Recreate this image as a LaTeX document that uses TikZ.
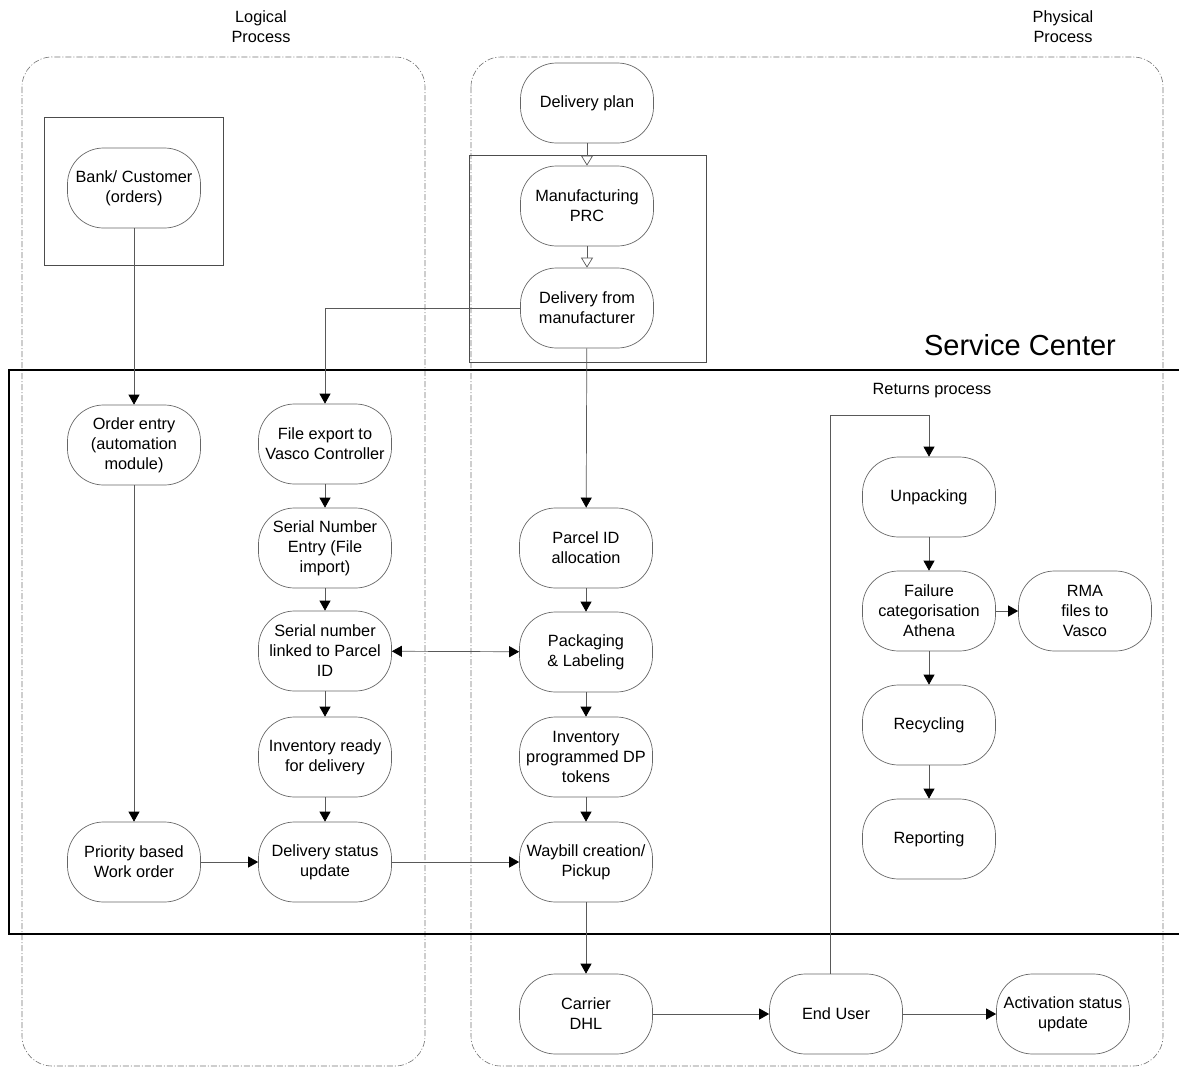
\documentclass[tikz,border=0pt]{standalone}
\usepackage{fontspec}
\setmainfont{Liberation Sans}
\usetikzlibrary{arrows.meta}
\newcommand{\nfont}{\fontsize{16.3}{20}\selectfont}
\tikzset{
  proc/.style={draw=black!60, line width=0.7pt, rounded corners=36pt, minimum width=133pt, minimum height=80pt, inner sep=1pt, align=center, font=\nfont},
  arr/.style={draw=black!65, line width=0.7pt, -{Triangle[length=10pt,width=11pt,color=black]}},
  darr/.style={draw=black!65, line width=0.7pt, {Triangle[length=10pt,width=11pt,color=black]}-{Triangle[length=10pt,width=11pt,color=black]}},
  oarr/.style={draw=black!65, line width=0.7pt, -{Triangle[open,length=10pt,width=12pt,fill=white]}},
  lane/.style={draw=black!55, line width=0.6pt, dash pattern=on 6pt off 2pt on 1pt off 2pt, rounded corners=30pt},
  frame/.style={draw=black!70, line width=0.8pt},
  lbl/.style={align=center, font=\nfont}
}
\begin{document}
\begin{tikzpicture}[x=1pt,y=-1pt]
\useasboundingbox (0,0) rectangle (1179,1068);
% lanes
\draw[lane] (22,57) rectangle (425,1066);
\draw[lane] (471,57) rectangle (1163,1066);
\node[lbl] (lp) at (261,27) {Logical\\Process};
\node[lbl] (pp) at (1063,27) {Physical\\Process};
% frames
\draw[frame] (44,117) rectangle (223,265);
\draw[frame] (469,155) rectangle (706,362);
\draw[black, line width=2.8pt] (1190,370) -- (9,370) -- (9,934) -- (1190,934);
\node[font=\fontsize{29}{34}\selectfont, anchor=base] (sc) at (1020,355) {Service Center};
\node[lbl] (rp) at (932,391) {Returns process};
% nodes
\node[proc] (bank) at (134,188) {Bank/ Customer\\(orders)};
\node[proc] (dplan) at (587,103) {Delivery plan};
\node[proc] (mprc) at (587,206) {Manufacturing\\PRC};
\node[proc] (dfm) at (587,308) {Delivery from\\manufacturer};
\node[proc] (order) at (134,445) {Order entry\\(automation\\module)};
\node[proc] (fexp) at (325,444) {File export to\\Vasco Controller};
\node[proc] (sne) at (325,548) {Serial Number\\Entry (File\\import)};
\node[proc] (snl) at (325,651) {Serial number\\linked to Parcel\\ID};
\node[proc] (inv) at (325,757) {Inventory ready\\for delivery};
\node[proc] (dsu) at (325,862) {Delivery status\\update};
\node[proc] (prio) at (134,862) {Priority based\\Work order};
\node[proc] (parcel) at (586,548) {Parcel ID\\allocation};
\node[proc] (pack) at (586,652) {Packaging\\\& Labeling};
\node[proc] (invp) at (586,757) {Inventory\\programmed DP\\tokens};
\node[proc] (way) at (586,862) {Waybill creation/\\Pickup};
\node[proc] (unpack) at (929,497) {Unpacking};
\node[proc] (fail) at (929,611) {Failure\\categorisation\\Athena};
\node[proc] (rma) at (1085,611) {RMA\\files to\\Vasco};
\node[proc] (recyc) at (929,725) {Recycling};
\node[proc] (report) at (929,839) {Reporting};
\node[proc] (carrier) at (586,1014) {Carrier\\DHL};
\node[proc] (eu) at (836,1014) {End User};
\node[proc] (act) at (1063,1014) {Activation status\\update};
% connectors
\draw[oarr] (dplan) -- (mprc);
\draw[oarr] (mprc) -- (dfm);
\draw[arr] (bank) -- (order);
\draw[arr] (order) -- (prio);
\draw[arr] (prio) -- (dsu);
\draw[arr] (dsu) -- (way);
\draw[arr] (dfm.west) -| (fexp.north);
\draw[arr] (dfm) -- (parcel);
\draw[arr] (fexp) -- (sne);
\draw[arr] (sne) -- (snl);
\draw[arr] (snl) -- (inv);
\draw[arr] (inv) -- (dsu);
\draw[darr] (snl) -- (pack);
\draw[arr] (parcel) -- (pack);
\draw[arr] (pack) -- (invp);
\draw[arr] (invp) -- (way);
\draw[arr] (way) -- (carrier);
\draw[arr] (carrier) -- (eu);
\draw[arr] (eu) -- (act);
\coordinate (ru) at (830,415);
\draw[arr] (eu.north -| ru) -- (ru) -| (unpack.north);
\draw[arr] (unpack) -- (fail);
\draw[arr] (fail) -- (rma);
\draw[arr] (fail) -- (recyc);
\draw[arr] (recyc) -- (report);
\end{tikzpicture}
\end{document}
